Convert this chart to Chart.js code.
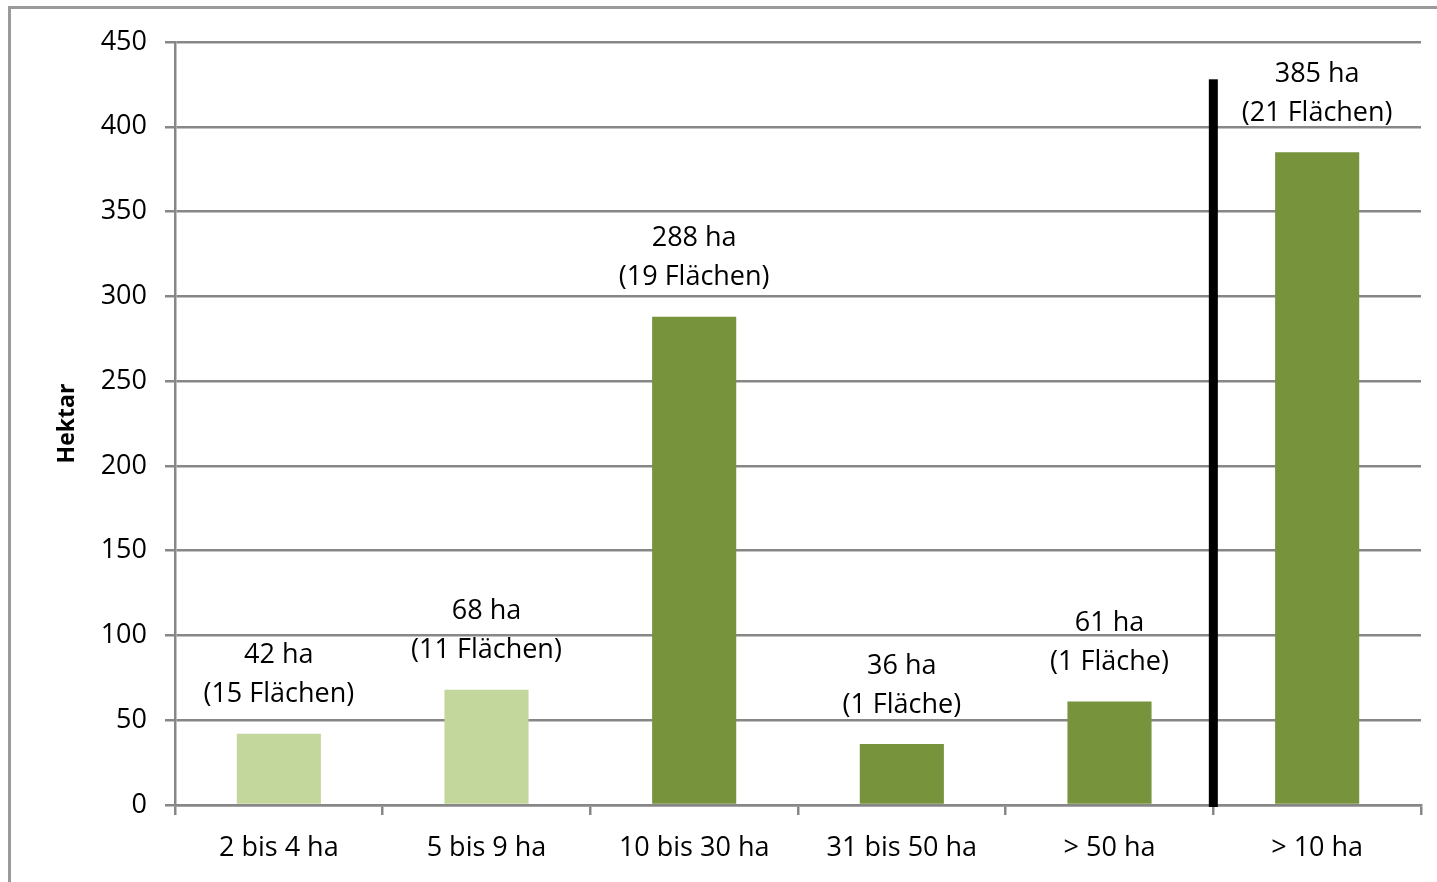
<!DOCTYPE html>
<html>
<head>
<meta charset="utf-8">
<script src="https://cdn.jsdelivr.net/npm/chart.js@4"></script>
<style>
  body { margin: 0; background: #fff; }
</style>
</head>
<body>
<canvas id="myChart" width="1437" height="882"></canvas>
<script>
// data
var categories = ['2 bis 4 ha', '5 bis 9 ha', '10 bis 30 ha', '31 bis 50 ha', '> 50 ha', '> 10 ha'];
var hectares = [42, 68, 288, 36, 61, 385];
var areaCounts = ['15 Flächen', '11 Flächen', '19 Flächen', '1 Fläche', '1 Fläche', '21 Flächen'];
var barColors = ['#c3d69b', '#c3d69b', '#77933c', '#77933c', '#77933c', '#77933c'];
var yTicks = [0, 50, 100, 150, 200, 250, 300, 350, 400, 450];
var dividerTop = 428; // top of the black separator, in Hektar

var fontFamily = "'Open Sans', 'Noto Sans', sans-serif";
var gridGray = '#878787';

var extras = {
    id: 'extras',
    beforeDraw: function(chart) {
        var c = chart.ctx;
        c.save();
        c.strokeStyle = '#9a9a9a';
        c.lineWidth = 3;
        c.strokeRect(9.5, 7.5, 1500, 900);
        c.restore();
    },
    afterDatasetsDraw: function(chart) {
        var c = chart.ctx;
        var x = chart.scales.x, y = chart.scales.y;
        var meta = chart.getDatasetMeta(0);
        c.save();
        // separator line between the single classes and the total
        var sx = (x.getPixelForValue(4) + x.getPixelForValue(5)) / 2;
        c.fillStyle = '#000';
        c.fillRect(sx - 4.5, y.getPixelForValue(dividerTop), 9, y.getPixelForValue(0) - y.getPixelForValue(dividerTop) + 2);
        // labels above bars
        c.font = '27px ' + fontFamily;
        c.textAlign = 'center';
        c.textBaseline = 'middle';
        c.fillStyle = '#000';
        meta.data.forEach(function(bar, i) {
            c.fillText(hectares[i] + ' ha', bar.x, bar.y - 78);
            c.fillText('(' + areaCounts[i] + ')', bar.x, bar.y - 39);
        });
        c.restore();
    }
};

var ctx = document.getElementById('myChart').getContext('2d');
var myChart = new Chart(ctx, {
    type: 'bar',
    data: {
        labels: categories,
        datasets: [{
            data: hectares,
            backgroundColor: barColors,
            barPercentage: 1,
            categoryPercentage: 0.405
        }]
    },
    options: {
        responsive: false,
        animation: false,
        layout: { padding: { top: 42, right: 16, left: 0, bottom: 0 } },
        plugins: {
            legend: { display: false },
            tooltip: { enabled: false }
        },
        scales: {
            x: {
                grid: {
                    offset: true,
                    drawOnChartArea: false,
                    color: gridGray,
                    lineWidth: 2.5,
                    tickLength: 10
                },
                border: { color: gridGray, width: 2.5 },
                ticks: {
                    color: '#000',
                    padding: 17,
                    font: { family: fontFamily, size: 27 }
                },
                afterFit: function(scale) { scale.height = 77; }
            },
            y: {
                min: 0,
                max: 450,
                afterBuildTicks: function(scale) {
                    scale.ticks = yTicks.map(function(v) { return { value: v }; });
                },
                grid: {
                    color: gridGray,
                    lineWidth: 2.5,
                    tickLength: 10
                },
                border: { color: gridGray, width: 2.5 },
                ticks: {
                    color: '#000',
                    padding: 18,
                    font: { family: fontFamily, size: 27 }
                },
                title: {
                    display: true,
                    text: 'Hektar',
                    color: '#000',
                    font: { family: fontFamily, size: 23, weight: 'bold' },
                    padding: { top: 54, bottom: 0 }
                },
                afterFit: function(scale) { scale.width = 175; }
            }
        }
    },
    plugins: [extras]
});
</script>
</body>
</html>
